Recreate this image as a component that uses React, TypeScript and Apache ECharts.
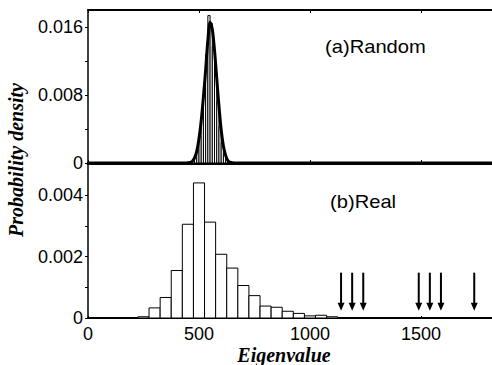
import React, { useEffect, useRef } from "react";
import * as echarts from "echarts";

// ---- data ----
// (a) Random: narrow histogram (bin centres, densities) and fitted curve
const RANDOM_BIN_WIDTH = 10;
const randomBins = [475, 485, 495, 505, 515, 525, 535, 545, 555, 565, 575, 585, 595, 605, 615, 625, 635];
const randomDensity = [0.0002, 0.0006, 0.0015, 0.0031, 0.0055, 0.0088, 0.0128, 0.0174, 0.0165, 0.0137, 0.0105, 0.0072, 0.0043, 0.0024, 0.0011, 0.0004, 0.0001];
const curveX = [0, 440, 460, 470, 480, 490, 500, 510, 520, 530, 540, 550, 560, 570, 580, 590, 600, 610, 620, 630, 640, 660, 1820];
const curveY = [0, 0, 0.00005, 0.0002, 0.0006, 0.0014, 0.0029, 0.005, 0.0078, 0.011, 0.0145, 0.0166, 0.0158, 0.0133, 0.01, 0.0067, 0.0039, 0.002, 0.0009, 0.0003, 0.0001, 0, 0];

// (b) Real: histogram (bin centres, densities) and large eigenvalues
const REAL_BIN_WIDTH = 50;
const realBins = [250, 300, 350, 400, 450, 500, 550, 600, 650, 700, 750, 800, 850, 900, 950, 1000, 1050, 1100];
const realDensity = [0.00004, 0.00033, 0.00067, 0.00155, 0.00306, 0.00441, 0.00313, 0.00208, 0.00163, 0.00106, 0.00073, 0.00039, 0.00035, 0.00022, 0.00015, 0.00007, 0.00009, 0.00004];
const largeEigenvalues = [1140, 1190, 1240, 1490, 1540, 1590, 1740];

// ticks
const xTicks = [0, 500, 1000, 1500];
const topYTicks = [0, 0.004, 0.008, 0.012, 0.016];
const topYLabels = [0, 0.008, 0.016];
const botYTicks = [0, 0.001, 0.002, 0.003, 0.004];
const botYLabels = [0, 0.002, 0.004];

const SANS = "Liberation Sans, Arial, Helvetica, sans-serif";
const SERIF = "Liberation Serif, Times New Roman, serif";

export default function App() {
  const ref = useRef<HTMLDivElement>(null);
  useEffect(() => {
    if (!ref.current) return;
    const chart = echarts.init(ref.current, null, { renderer: "svg" });

    const histRender = (binWidth: number) => (params: any, api: any) => {
      const x = api.value(0);
      const h = api.value(1);
      const p0 = api.coord([x - binWidth / 2, h]);
      const p1 = api.coord([x + binWidth / 2, 0]);
      return {
        type: "rect",
        shape: { x: p0[0], y: p0[1], width: p1[0] - p0[0], height: p1[1] - p0[1] },
        style: { fill: "#fff", stroke: "#000", lineWidth: 1 },
      };
    };

    const ARROW_TOP = 0.00148;
    const ARROW_TIP = 0.00024;

    const yLabel = (vals: number[]) => ({
      customValues: vals,
      color: "#000",
      fontSize: 18,
      fontFamily: SANS,
      margin: 5,
      formatter: (v: number) => (v === 0 ? "0" : String(Number(v.toFixed(3)))),
    });

    const option: any = {
      animation: false,
      grid: [
        { left: 88, right: 0, top: 10, height: 153 },
        { left: 88, right: 0, top: 163, height: 155 },
      ],
      xAxis: [
        {
          gridIndex: 0, type: "value", min: 0, max: 1820, position: "bottom",
          axisLine: { lineStyle: { color: "#000", width: 3 } },
          axisTick: { inside: true, length: 3, customValues: xTicks, lineStyle: { color: "#000" } },
          axisLabel: { show: false }, splitLine: { show: false },
        },
        {
          gridIndex: 0, type: "value", min: 0, max: 1820, position: "top",
          axisLine: { lineStyle: { color: "#000", width: 2 } },
          axisTick: { inside: true, length: 3, customValues: xTicks, lineStyle: { color: "#000" } },
          axisLabel: { show: false }, splitLine: { show: false },
        },
        {
          gridIndex: 1, type: "value", min: 0, max: 1820, position: "bottom",
          axisLine: { lineStyle: { color: "#000", width: 2 } },
          axisTick: { inside: true, length: 2, customValues: xTicks, lineStyle: { color: "#000" } },
          axisLabel: {
            customValues: xTicks, color: "#000", fontSize: 18, fontFamily: SANS, margin: 7,
            formatter: (v: number) => String(Math.round(v)),
          },
          splitLine: { show: false },
        },
      ],
      yAxis: [
        {
          gridIndex: 0, type: "value", min: 0, max: 0.01806,
          axisLine: { show: true, lineStyle: { color: "#000", width: 1.5 } },
          axisTick: { show: true, length: 3, customValues: topYTicks, lineStyle: { color: "#000" } },
          axisLabel: yLabel(topYLabels), splitLine: { show: false },
        },
        {
          gridIndex: 1, type: "value", min: 0, max: 0.00506,
          axisLine: { show: true, lineStyle: { color: "#000", width: 1.5 } },
          axisTick: { show: true, length: 3, customValues: botYTicks, lineStyle: { color: "#000" } },
          axisLabel: yLabel(botYLabels), splitLine: { show: false },
        },
      ],
      series: [
        {
          type: "custom", xAxisIndex: 0, yAxisIndex: 0,
          renderItem: histRender(RANDOM_BIN_WIDTH),
          data: randomBins.map((x, i) => [x, randomDensity[i]]),
          z: 2,
        },
        {
          type: "line", xAxisIndex: 0, yAxisIndex: 0, smooth: 0.3, showSymbol: false,
          lineStyle: { color: "#000", width: 3 },
          data: curveX.map((x, i) => [x, curveY[i]]),
          z: 3,
        },
        {
          type: "custom", xAxisIndex: 2, yAxisIndex: 1,
          renderItem: histRender(REAL_BIN_WIDTH),
          data: realBins.map((x, i) => [x, realDensity[i]]),
          z: 2,
        },
        {
          type: "custom", xAxisIndex: 2, yAxisIndex: 1,
          renderItem: (params: any, api: any) => {
            const x = api.value(0);
            const top = api.coord([x, ARROW_TOP]);
            const tip = api.coord([x, ARROW_TIP]);
            return {
              type: "group",
              children: [
                {
                  type: "line",
                  shape: { x1: top[0], y1: top[1], x2: tip[0], y2: tip[1] - 6 },
                  style: { stroke: "#000", lineWidth: 2 },
                },
                {
                  type: "polygon",
                  shape: { points: [[tip[0] - 3.5, tip[1] - 8], [tip[0] + 3.5, tip[1] - 8], [tip[0], tip[1]]] },
                  style: { fill: "#000" },
                },
              ],
            };
          },
          data: largeEigenvalues.map((x) => [x, 0]),
          z: 4,
        },
      ],
      graphic: [
        {
          type: "text", left: 325, top: 38, scaleX: 1.12,
          style: { text: "(a)Random", fontSize: 18, fontFamily: SANS, fill: "#000" },
        },
        {
          type: "text", left: 330, top: 193, scaleX: 1.12,
          style: { text: "(b)Real", fontSize: 18, fontFamily: SANS, fill: "#000" },
        },
        {
          type: "text", x: 284, y: 355,
          style: {
            text: "Eigenvalue", fontSize: 20, fontFamily: SERIF, fontWeight: "bold", fontStyle: "italic",
            fill: "#000", align: "center", verticalAlign: "middle",
          },
        },
        {
          type: "text", x: 16, y: 160, rotation: Math.PI / 2,
          style: {
            text: "Probability density", fontSize: 20, fontFamily: SERIF, fontWeight: "bold", fontStyle: "italic",
            fill: "#000", align: "center", verticalAlign: "middle",
          },
        },
      ],
    };
    chart.setOption(option);
    return () => chart.dispose();
  }, []);
  return (
    <div
      ref={ref}
      style={{ position: "fixed", left: 0, top: 0, width: 492, height: 365, background: "#fff" }}
    />
  );
}
